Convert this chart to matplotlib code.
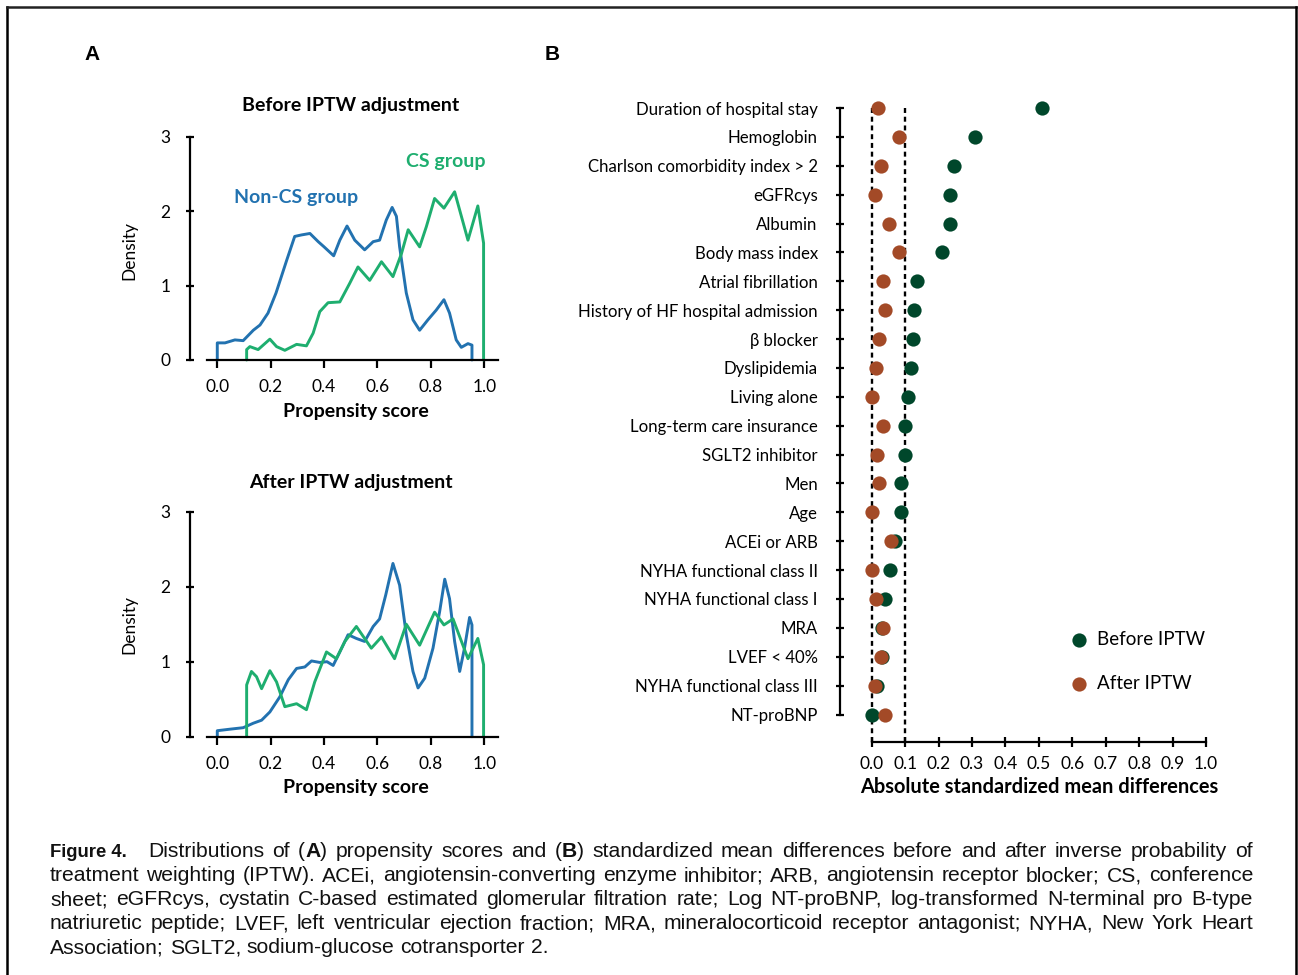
import matplotlib
matplotlib.use('Agg')
import matplotlib.pyplot as plt
from matplotlib.lines import Line2D
from matplotlib import font_manager
import numpy as np

# ---------------- data ----------------
ps_ticks = [0.0, 0.2, 0.4, 0.6, 0.8, 1.0]
ps_tick_labels = ['0.0', '0.2', '0.4', '0.6', '0.8', '1.0']
dens_ticks = [0, 1, 2, 3]

# Before IPTW – Non-CS group
bef_noncs_x = [0.0, 0.0, 0.029, 0.066, 0.097, 0.135, 0.16, 0.19, 0.22, 0.26, 0.29, 0.315, 0.347,
               0.378, 0.40, 0.436, 0.459, 0.486, 0.515, 0.552, 0.584, 0.608, 0.633, 0.655, 0.671,
               0.683, 0.708, 0.733, 0.758, 0.789, 0.82, 0.849, 0.87, 0.895, 0.914, 0.939, 0.954, 0.954]
bef_noncs_y = [0.0, 0.23, 0.23, 0.27, 0.26, 0.40, 0.47, 0.63, 0.90, 1.34, 1.66, 1.68, 1.70,
               1.59, 1.52, 1.40, 1.61, 1.80, 1.61, 1.48, 1.59, 1.61, 1.88, 2.05, 1.93,
               1.52, 0.90, 0.54, 0.40, 0.54, 0.67, 0.81, 0.63, 0.27, 0.17, 0.22, 0.20, 0.0]
# Before IPTW – CS group
bef_cs_x = [0.11, 0.11, 0.122, 0.153, 0.197, 0.222, 0.253, 0.297, 0.334, 0.359, 0.384, 0.415, 0.459,
            0.496, 0.527, 0.571, 0.615, 0.658, 0.69, 0.715, 0.758, 0.783, 0.814, 0.849, 0.889,
            0.939, 0.976, 0.9975, 0.9975]
bef_cs_y = [0.0, 0.14, 0.18, 0.14, 0.28, 0.18, 0.13, 0.21, 0.19, 0.36, 0.65, 0.77, 0.78,
            1.03, 1.25, 1.07, 1.32, 1.12, 1.43, 1.75, 1.52, 1.79, 2.17, 2.04, 2.26,
            1.61, 2.07, 1.57, 0.0]
# After IPTW – Non-CS group
aft_noncs_x = [0.0, 0.0, 0.047, 0.097, 0.135, 0.166, 0.197, 0.234, 0.266, 0.297, 0.328, 0.353, 0.384,
               0.411, 0.434, 0.459, 0.49, 0.521, 0.552, 0.584, 0.608, 0.631, 0.658, 0.683, 0.708,
               0.733, 0.752, 0.777, 0.808, 0.833, 0.852, 0.87, 0.889, 0.908, 0.926, 0.945, 0.954, 0.954]
aft_noncs_y = [0.0, 0.08, 0.10, 0.12, 0.18, 0.22, 0.33, 0.53, 0.76, 0.91, 0.93, 1.01, 0.99,
               1.00, 0.95, 1.13, 1.36, 1.31, 1.27, 1.47, 1.57, 1.89, 2.31, 2.02, 1.36,
               0.87, 0.65, 0.78, 1.18, 1.67, 2.10, 1.84, 1.27, 0.87, 1.18, 1.59, 1.49, 0.0]
# After IPTW – CS group
aft_cs_x = [0.11, 0.11, 0.128, 0.147, 0.166, 0.197, 0.222, 0.253, 0.297, 0.334, 0.365, 0.409, 0.446,
            0.478, 0.521, 0.577, 0.615, 0.664, 0.708, 0.758, 0.814, 0.849, 0.883, 0.939, 0.976,
            0.9975, 0.9975]
aft_cs_y = [0.0, 0.69, 0.87, 0.80, 0.64, 0.88, 0.73, 0.40, 0.44, 0.36, 0.73, 1.13, 1.04,
            1.27, 1.47, 1.18, 1.33, 1.04, 1.50, 1.22, 1.66, 1.49, 1.57, 1.04, 1.31,
            0.96, 0.0]

covariates = ['Duration of hospital stay', 'Hemoglobin', 'Charlson comorbidity index > 2', 'eGFRcys',
              'Albumin', 'Body mass index', 'Atrial fibrillation', 'History of HF hospital admission',
              'β blocker', 'Dyslipidemia', 'Living alone', 'Long-term care insurance',
              'SGLT2 inhibitor', 'Men', 'Age', 'ACEi or ARB', 'NYHA functional class II',
              'NYHA functional class I', 'MRA', 'LVEF < 40%', 'NYHA functional class III', 'NT-proBNP']
smd_before = [0.508, 0.308, 0.246, 0.235, 0.233, 0.211, 0.135, 0.126, 0.122, 0.118, 0.108, 0.100,
              0.098, 0.088, 0.086, 0.071, 0.054, 0.041, 0.030, 0.032, 0.017, 0.002]
smd_after = [0.019, 0.081, 0.029, 0.010, 0.052, 0.081, 0.033, 0.040, 0.021, 0.014, 0.002, 0.034,
             0.016, 0.022, 0.002, 0.058, 0.002, 0.012, 0.033, 0.027, 0.010, 0.040]
smd_ref_lines = [0.0, 0.1]
smd_ticks = [0.0, 0.1, 0.2, 0.3, 0.4, 0.5, 0.6, 0.7, 0.8, 0.9, 1.0]
smd_tick_labels = ['0.0', '0.1', '0.2', '0.3', '0.4', '0.5', '0.6', '0.7', '0.8', '0.9', '1.0']

# ---------------- style ----------------
BLUE = '#2272B0'
GREEN = '#1EAE6F'
DKGREEN = '#00472B'
ORANGE = '#A34A27'
FONT = ['Lato', 'DejaVu Sans']
plt.rcParams['font.family'] = FONT

W, H = 1298, 975
fig = plt.figure(figsize=(W / 100, H / 100), dpi=100)


def fx(x):
    return x / W


def fy(y):
    return 1 - y / H


def density_panel(y_zero, y_three, xs1, ys1, xs2, ys2):
    left, right = 206.6, 497.6
    ax = fig.add_axes([fx(left), fy(y_zero), (right - left) / W, (y_zero - y_three) / H])
    ax.plot(xs1, ys1, color=BLUE, lw=2.1, solid_joinstyle='round', solid_capstyle='round', clip_on=False)
    ax.plot(xs2, ys2, color=GREEN, lw=2.1, solid_joinstyle='round', solid_capstyle='round', clip_on=False)
    ax.set_xlim(-0.04, 1.05)
    ax.set_ylim(0, 3)
    for s in ['top', 'right']:
        ax.spines[s].set_visible(False)
    ax.spines['left'].set_position(('outward', 12))
    ax.spines['left'].set_bounds(0, 3)
    for s in ['left', 'bottom']:
        ax.spines[s].set_linewidth(1.6)
    ax.set_xticks(ps_ticks)
    ax.set_xticklabels(ps_tick_labels)
    ax.set_yticks(dens_ticks)
    ax.tick_params(axis='x', direction='out', length=6, width=1.6, pad=8, labelsize=12.5)
    ax.tick_params(axis='y', direction='inout', length=6, width=1.6, pad=11, labelsize=12.5)
    return ax


ax1 = density_panel(360, 136.7, bef_noncs_x, bef_noncs_y, bef_cs_x, bef_cs_y)
ax2 = density_panel(736.7, 511.7, aft_noncs_x, aft_noncs_y, aft_cs_x, aft_cs_y)

# panel A texts
fig.text(fx(351), fy(106), 'Before IPTW adjustment', ha='center', va='center', fontsize=14, fontweight='bold')
fig.text(fx(351), fy(483), 'After IPTW adjustment', ha='center', va='center', fontsize=14, fontweight='bold')
for yy in (411, 787):
    fig.text(fx(356), fy(yy), 'Propensity score', ha='center', va='center', fontsize=14, fontweight='bold')
for yy in (250, 625):
    fig.text(fx(129), fy(yy), 'Density', ha='center', va='center', rotation=90, fontsize=12.5)
fig.text(fx(296), fy(197), 'Non-CS group', ha='center', va='center', fontsize=14, fontweight='bold', color=BLUE)
fig.text(fx(446), fy(162), 'CS group', ha='center', va='center', fontsize=14, fontweight='bold', color=GREEN)

# panel labels
fig.text(fx(92), fy(55), 'A', ha='center', va='center', fontsize=15, fontweight='bold', family='Liberation Sans')
fig.text(fx(552), fy(55), 'B', ha='center', va='center', fontsize=15, fontweight='bold', family='Liberation Sans')

# ---------------- panel B ----------------
row_gap = (714.5 - 108) / 21
y_bottom = 21 + (742 - 714.5) / row_gap
y_top = -0.5
top_px = 108 - 0.5 * row_gap
axB = fig.add_axes([fx(840), fy(742), (1212.7 - 840) / W, (742 - top_px) / H])
rows = np.arange(len(covariates))
axB.vlines(smd_ref_lines, 0, y_bottom, colors='black', linewidth=1.7,
           linestyles=(0, (2.1, 1.6)), zorder=1, clip_on=False)
axB.scatter(smd_before, rows, s=105, color=DKGREEN, zorder=3, clip_on=False, label='Before IPTW', linewidths=0)
axB.scatter(smd_after, rows, s=105, color=ORANGE, zorder=4, clip_on=False, label='After IPTW', linewidths=0)
axB.set_xlim(-0.095, 1.02)
axB.set_ylim(y_bottom, y_top)
for s in ['top', 'right']:
    axB.spines[s].set_visible(False)
axB.spines['left'].set_bounds(0, len(covariates) - 1)
axB.spines['bottom'].set_bounds(0, 1)
for s in ['left', 'bottom']:
    axB.spines[s].set_linewidth(1.6)
axB.set_yticks(rows)
axB.set_yticklabels(covariates)
axB.set_xticks(smd_ticks)
axB.set_xticklabels(smd_tick_labels)
axB.tick_params(axis='y', direction='inout', length=6, width=1.6, pad=13, labelsize=12.1)
axB.tick_params(axis='x', direction='inout', length=7, width=1.6, pad=6.5, labelsize=12.5)
fig.text(fx(1039), fy(787), 'Absolute standardized mean differences', ha='center', va='center',
         fontsize=14.4, fontweight='bold')
axB.legend(loc='center left', bbox_to_anchor=(fx(1069.6), fy(661.5)), bbox_transform=fig.transFigure,
           frameon=False, fontsize=13.5, handlelength=1.0, handletextpad=0.45, labelspacing=1.42,
           borderpad=0, borderaxespad=0, markerscale=1.0)

# ---------------- border ----------------
lw_b = 1.8
fig.add_artist(Line2D([fx(7), fx(7)], [fy(7), fy(980)], color='black', lw=lw_b, transform=fig.transFigure))
fig.add_artist(Line2D([fx(7), fx(1296)], [fy(7), fy(7)], color='#222222', lw=lw_b, transform=fig.transFigure))
fig.add_artist(Line2D([fx(1296), fx(1296)], [fy(7), fy(980)], color='black', lw=lw_b, transform=fig.transFigure))

# ---------------- caption ----------------
available = {f.name for f in font_manager.fontManager.ttflist}
narrow = 'Liberation Sans Narrow' if 'Liberation Sans Narrow' in available else 'Liberation Sans'
body = 'Liberation Sans'

fig.text(fx(50), fy(857), 'Figure 4.', ha='left', va='baseline', fontsize=13.3, fontweight='bold',
         family=narrow, color='#111111')

cap_lines = [
    ('Distributions of (**A**) propensity scores and (**B**) standardized mean differences before and after inverse probability of', 148, True),
    ('treatment weighting (IPTW). ACEi, angiotensin-converting enzyme inhibitor; ARB, angiotensin receptor blocker; CS, conference', 50, True),
    ('sheet; eGFRcys, cystatin C-based estimated glomerular filtration rate; Log NT-proBNP, log-transformed N-terminal pro B-type', 50, True),
    ('natriuretic peptide; LVEF, left ventricular ejection fraction; MRA, mineralocorticoid receptor antagonist; NYHA, New York Heart', 50, True),
    ('Association; SGLT2, sodium-glucose cotransporter 2.', 50, False),
]
cap_right = 1253
cap_baselines = [857, 881, 905, 929, 953]


def parse(line):
    words, bold = [], False
    for w in line.split(' '):
        segs = []
        parts = w.split('**')
        for k, p in enumerate(parts):
            if k > 0:
                bold = not bold
            if p:
                segs.append((p, bold))
        words.append(segs)
    return words


fig.canvas.draw()
renderer = fig.canvas.get_renderer()

# fit font size on last line width (reference ~502 px)
probe = fig.text(0, 0, cap_lines[4][0], fontsize=14, family=body)
wprobe = probe.get_window_extent(renderer).width
probe.remove()
cap_fs = 14 * 502 / wprobe

for (line, x0, just), base in zip(cap_lines, cap_baselines):
    words = parse(line)
    objs = []
    widths = []
    for segs in words:
        wobjs = []
        wsum = 0
        for txt, b in segs:
            t = fig.text(0, fy(base), txt, fontsize=cap_fs, family=body,
                         fontweight='bold' if b else 'normal', ha='left', va='baseline', color='#111111')
            w = t.get_window_extent(renderer).width
            wobjs.append((t, w))
            wsum += w
        objs.append(wobjs)
        widths.append(wsum)
    space_nat = cap_fs * 100 / 72 * 0.278
    if just and len(words) > 1:
        space = (cap_right - x0 - sum(widths)) / (len(words) - 1)
    else:
        space = space_nat
    x = x0
    for wobjs, wsum in zip(objs, widths):
        xx = x
        for t, w in wobjs:
            t.set_x(fx(xx))
            xx += w
        x += wsum + space

fig.savefig('out.png', dpi=100)
